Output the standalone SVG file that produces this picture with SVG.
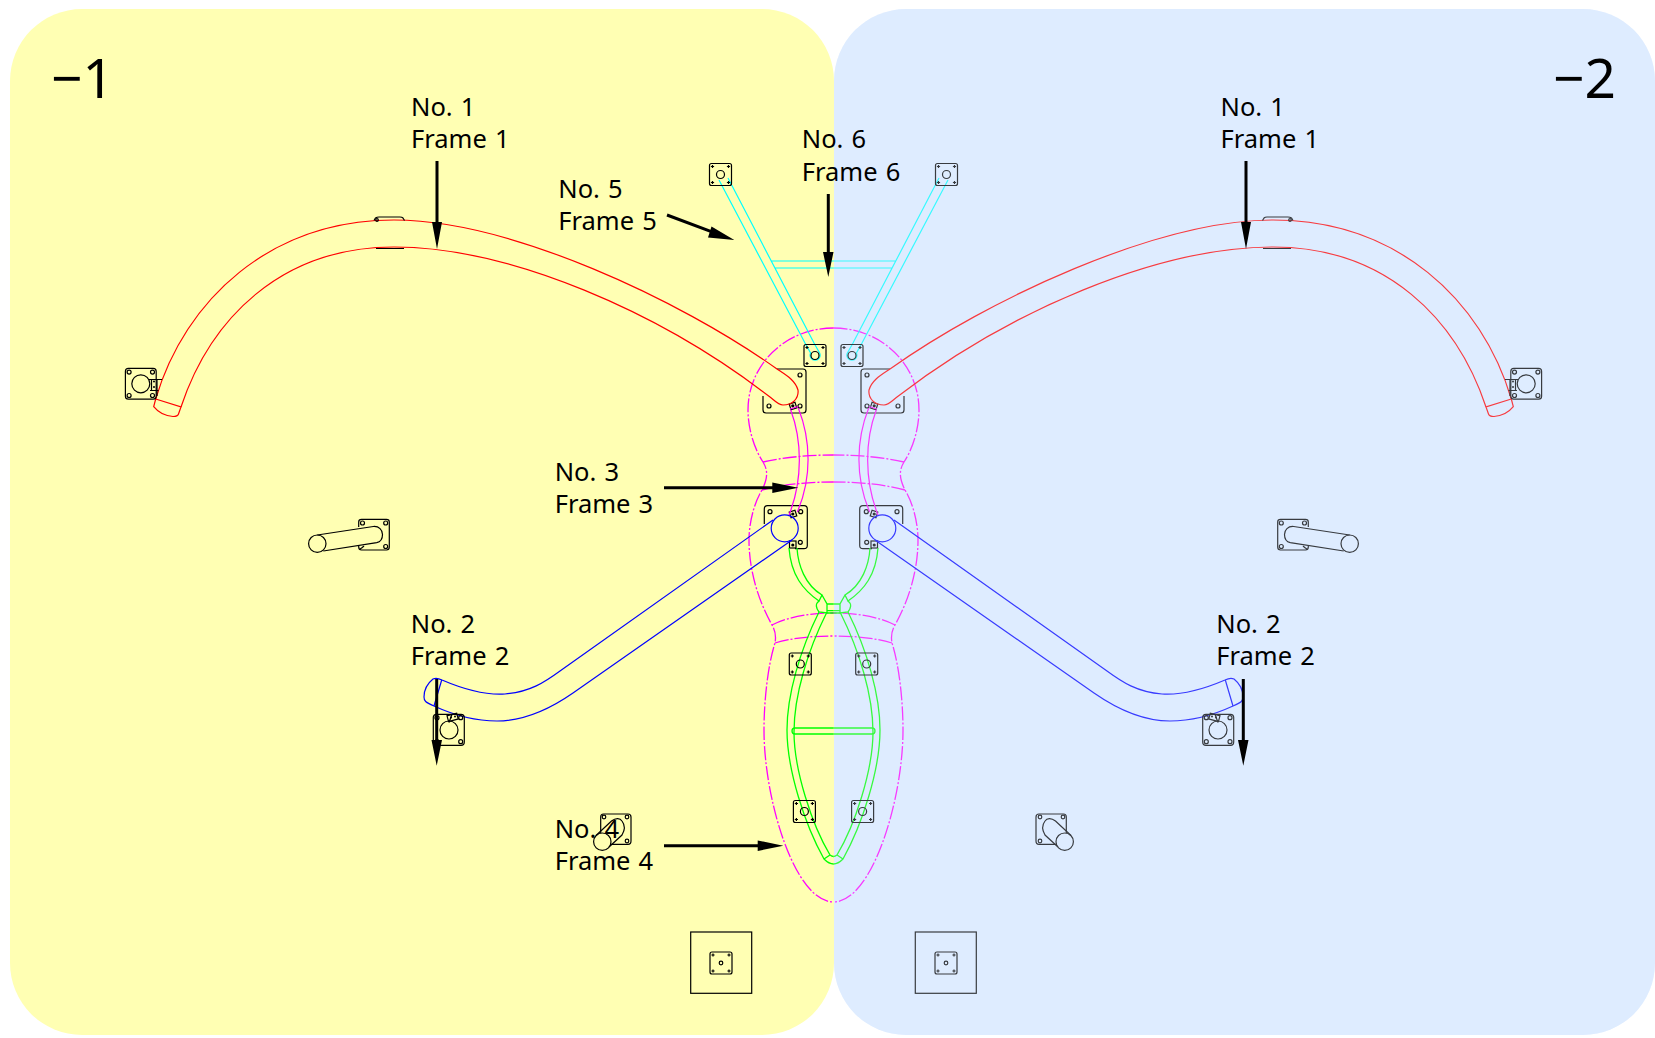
<svg xmlns="http://www.w3.org/2000/svg" xmlns:xlink="http://www.w3.org/1999/xlink" width="1655" height="1038" viewBox="0 0 1655 1038">
<style>
.k{fill:none;stroke:#000;stroke-width:1.2}
.r{fill:none;stroke:#ff0000;stroke-width:1.2}
.b{fill:none;stroke:#0000ff;stroke-width:1.2}
.g{fill:none;stroke:#00ff00;stroke-width:1.3}
.c{fill:none;stroke:#00ffff;stroke-width:1.2}
.m{fill:none;stroke:#ff00ff;stroke-width:1.2}
.d{fill:none;stroke:#ff00ff;stroke-width:1.3;stroke-dasharray:14 2 2 2}
.a{stroke:#000;stroke-width:3;fill:none}
.h{fill:#000}
text{font-family:"Noto Sans","Open Sans",sans-serif;font-size:25.5px;word-spacing:1.5px;fill:#000}
.big{font-size:55px;word-spacing:0}
</style>
<defs>
<g id="cr"><path class="k" d="M-1.6,0H1.6M0,-1.6V1.6"/></g>
<g id="ps" class="k">
<rect x="-11" y="-11" width="22" height="22" rx="2"/>
<use xlink:href="#cr" x="-8" y="-8"/><use xlink:href="#cr" x="8" y="-8"/><use xlink:href="#cr" x="-8" y="8"/><use xlink:href="#cr" x="8" y="8"/>
</g>
<g id="pl" class="k">
<rect x="-15.4" y="-15.4" width="30.8" height="30.8" rx="3"/>
<circle cx="-11.7" cy="-11.7" r="2"/><circle cx="11.7" cy="-11.7" r="2"/><circle cx="-11.7" cy="11.7" r="2"/><circle cx="11.7" cy="11.7" r="2"/>
</g>
<g id="half">
<g id="outline"><path class="d" d="M833.5,328C785,328 748,365 748,410C748,430 755,450 763,462C768,470 768,478 762,490C753,505 749,525 749,540C749,570 758,600 772,625C776,632 776,637 775,643C768,665 764,700 764,730C764,800 795,902 833.5,902"/>
<path class="d" d="M763,462C785,457 810,455 833.5,455M762,490C785,484 810,482 833.5,482M772,625C790,616 812,613 833.5,613M775,643C792,638 812,636 833.5,636"/></g>
<g id="plates-black">
<g class="k"><path d="M777,369H803Q806,369 806,372V410Q806,413 803,413H766Q763,413 763,410V396"/><circle cx="800" cy="375" r="2"/><circle cx="769" cy="406" r="2"/><circle cx="800" cy="406" r="2"/>
<path d="M764.300,524V509Q764.300,505.700 767.500,505.700H804Q807.300,505.700 807.300,509V545.500Q807.300,548.700 804,548.700H795"/><circle cx="770" cy="511.700" r="2"/><circle cx="800.700" cy="511.700" r="2"/><circle cx="800.300" cy="542.300" r="2"/>
<rect x="789.500" y="541" width="6.500" height="7"/><rect x="790" y="403" width="6" height="6" transform="rotate(-18 793 406)"/><rect x="790" y="511" width="6" height="6" transform="rotate(-18 793 514)"/></g>
<circle class="h" cx="792.800" cy="405.800" r="1.600"/><circle class="h" cx="792.800" cy="514" r="1.600"/><circle class="h" cx="792.800" cy="545" r="1.600"/>
</g>
<g id="frame1"><path class="r" d="M155.700,399C185,300 270,220 394,220C510,220 680,300 777,369C786,375 795,380 798,390C799,399 792,405 783,405C778,405 774,400 770,397C660,312 510,247 394,247C280,247 210,320 181,407"/>
<path class="r" d="M155.700,399L153.700,406.700C158,412 165,416 173,416.500C176,416.500 178,415.500 178.500,414L181,407L155.700,399"/>
<g class="k"><path d="M374,220.500L375.500,218Q377,217 379,217H400Q402,217 403,218L404.500,220.500M376,248.500H404"/><circle cx="377" cy="220" r="1.300"/></g>
<use xlink:href="#pl" x="140.800" y="383.800"/><circle class="k" cx="140.800" cy="383.800" r="9"/>
<path class="k" d="M149,379.500H162M150,390.500H158.500M151.500,379.500V390.500M157,379.500V396"/><circle class="h" cx="154" cy="381.500" r="1"/><circle class="h" cx="154" cy="387" r="1"/></g>
<g id="frame2"><path class="b" d="M773,520L560,671C545,682 530,692 505,694C490,695 470,692 442,680C438,678 435,678 433,679C428,683 424,690 424,697C424,701 425,702 434,706C460,718 480,721 497,721C525,721 550,709 573,693L792,540"/><path class="b" d="M441.700,680L434,706"/><circle class="b" cx="784.700" cy="528.300" r="13.500"/>
<g class="k"><path d="M449,722.500L452,714.300H436.500Q433.300,714.300 433.300,717.500V742Q433.300,745.300 436.500,745.300H461Q464.300,745.300 464.300,742V717.500Q464.300,714.300 461,714.300H452"/><circle cx="449" cy="730" r="9"/><circle cx="460.700" cy="717.700" r="2"/><circle cx="460.700" cy="741.700" r="2"/><circle cx="437" cy="741.700" r="2"/><circle cx="437" cy="717.700" r="2"/><rect x="447.500" y="714.500" width="10" height="6" transform="rotate(-15 452 717)"/></g><circle class="h" cx="451" cy="717.500" r="1"/><circle class="h" cx="455" cy="716.500" r="1"/></g>
<g id="frame3"><path class="m" d="M790.700,410C802,440 803,480 789,515M798.300,408C811,440 812,478 797.300,512M790,409L798.300,406.500"/></g>
<g id="frame4"><path class="g" d="M789,548C791,575 803,590 819,601L822,595C805,585 798,565 797,548"/>
<path class="g" d="M819,601C815,604 816,608 819,612L827,613V604L822,595M827,604H833.500M827,610.700H833.500M827,613H833.500"/>
<path class="g" d="M819,612C800,650 787,695 787,730C787,770 805,825 824,859Q829,864 833.500,864M826.500,613C808,650 794,695 794,732C794,770 812,825 830,855Q832,856.500 833.500,856.500M824,859L830,855"/>
<path class="g" d="M833.500,728H795Q792,728 792,731Q792,734 795,734H833.500"/>
<use xlink:href="#ps" x="800.300" y="664"/><circle class="k" cx="800.300" cy="664" r="4"/>
<use xlink:href="#ps" x="804.400" y="811.500"/><circle class="k" cx="804.400" cy="811.500" r="4"/></g>
<g id="frame56"><path class="c" d="M719,180L805,343L810.600,353A5,5 0 1 0 819.600,353L814,343L728,178M771,261H833.500M774.500,268H833.500"/>
<use xlink:href="#ps" x="720.500" y="174.500"/><circle class="k" cx="720.500" cy="174.500" r="4"/>
<use xlink:href="#ps" x="815" y="355.500"/><circle class="k" cx="815" cy="355.500" r="4"/></g>
<g id="arm-a" class="k"><path d="M358.700,527V522Q358.700,519.300 361.500,519.300H386.500Q389.300,519.300 389.300,522V547Q389.300,550 386.500,550H361.500Q358.700,550 358.700,547V546"/><circle cx="362.500" cy="523" r="2"/><circle cx="385.700" cy="523" r="2"/><circle cx="385.700" cy="546.500" r="2"/><path d="M360,549Q362,548 364,546"/>
<circle cx="317.300" cy="543.700" r="8.700"/><path d="M317.300,535L373.300,526.500C379,526 382.500,530 382.500,534.500C382.500,539 380,542 376.700,542.700L323.300,551"/></g>
<g id="arm-b" class="k"><path d="M600.700,833V817Q600.700,814 603.500,814H628Q631,814 631,817V841Q631,844.300 628,844.300H610"/><circle cx="604" cy="817" r="1.800"/><circle cx="627" cy="817" r="1.800"/><circle cx="627" cy="841" r="1.800"/>
<circle cx="602.300" cy="841.700" r="8.700"/><path d="M596,835.500L611.500,821C616,817.500 620,818 622,821C625,825 625,830 622,835L609,847"/></g>
<g id="base" class="k"><rect x="690.700" y="932" width="61" height="61.300"/><use xlink:href="#ps" x="721" y="963"/><circle cx="721" cy="963" r="1.800"/></g>
</g>
</defs>
<rect id="panel-1" x="10" y="9" width="824" height="1026" rx="72" fill="#ffffb3"/>
<rect id="panel-2" x="834" y="9" width="821" height="1026" rx="72" fill="#deedff"/>
<g id="left-half"><use xlink:href="#half"/></g>
<g id="right-half"><use xlink:href="#half" transform="translate(1667,0) scale(-1,1)"/></g>
<rect id="panel-2-veil" x="834" y="9" width="821" height="1026" rx="72" fill="#deedff" fill-opacity="0.25"/>
<g id="connectors">
<path class="a" d="M437,161V225M1246,161V225M828.300,194V252M667,215L712,231.800M664,487.700H775M664,845.700H760M436.700,679V742M1243.300,679V742"/>
<path class="h" d="M437,249L432,222H442ZM1246,249L1241,222H1251ZM828.300,277L823,252H833.500ZM734.300,240L708,237.500L711.500,226.500ZM798.300,487.700L772.300,482.500V493ZM783.300,845.700L757.700,840.500V851ZM436.700,765.700L431.500,740H442ZM1243.300,765.700L1238,740H1248.500Z"/>
</g>
<g id="labels">
<text x="411" y="116">No. 1</text><text x="411" y="148">Frame 1</text>
<text x="1220.500" y="116">No. 1</text><text x="1220.500" y="148">Frame 1</text>
<text x="558.300" y="198.400">No. 5</text><text x="558.300" y="229.500">Frame 5</text>
<text x="801.800" y="148.300">No. 6</text><text x="801.800" y="180.700">Frame 6</text>
<text x="554.700" y="481">No. 3</text><text x="554.700" y="513">Frame 3</text>
<text x="410.800" y="633">No. 2</text><text x="410.800" y="665">Frame 2</text>
<text x="1216.300" y="633.300">No. 2</text><text x="1216.300" y="665">Frame 2</text>
<text x="554.700" y="838">No. 4</text><text x="554.700" y="870">Frame 4</text>
<text class="big" x="51" y="98">−1</text><text class="big" x="1553" y="98">−2</text>
</g>
</svg>
